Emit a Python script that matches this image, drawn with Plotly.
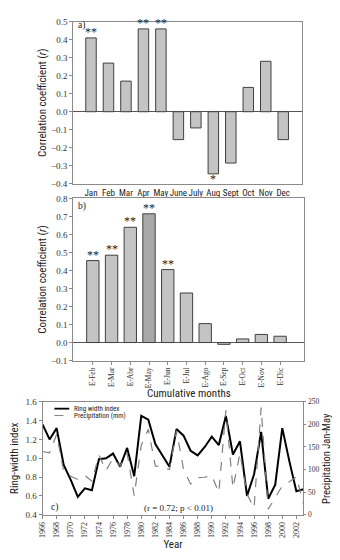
import plotly.graph_objects as go

# Panel a
months = ["Jan", "Feb", "Mar", "Apr", "May", "June", "July", "Aug", "Sept", "Oct", "Nov", "Dec"]
r_month = [0.41, 0.27, 0.17, 0.46, 0.46, -0.155, -0.09, -0.345, -0.285, 0.135, 0.28, -0.155]
sig_month = ["**", "", "", "**", "**", "", "", "*", "", "", "", ""]

# Panel b
cum_months = ["E-Feb", "E-Mar", "E-Abr", "E-May", "E-Jun", "E-Jul", "E-Ago", "E-Sep", "E-Oct", "E-Nov", "E-Dic"]
r_cum = [0.455, 0.485, 0.64, 0.715, 0.405, 0.275, 0.105, -0.01, 0.02, 0.045, 0.035]
sig_cum = ["**", "**", "**", "**", "**", "", "", "", "", "", ""]

# Panel c
years = list(range(1966, 2004))
ring_width = [1.36, 1.20, 1.32, 0.93, 0.77, 0.59, 0.68, 0.66, 0.99, 1.00, 1.05, 0.91,
              1.11, 0.81, 1.45, 1.41, 1.15, 1.03, 0.91, 1.31, 1.24, 1.08, 1.03, 1.12,
              1.23, 1.14, 1.45, 1.04, 1.18, 0.60, 0.83, 1.28, 0.57, 0.72, 1.32, 0.97,
              0.65, 0.67]
precip = [140, 137, 178, 96, 85, 78, 87, 74, 132, 98, 125, 108,
          136, 42, 154, 189, 108, 105, 100, 186, 100, 68, 82, 83,
          87, 49, 231, 59, 136, 46, 15, 237, 12, 38, 64, 73,
          84, 24]
year_ticks = list(range(1966, 2004, 2))
series_names = ["Ring width index", "Precipitation (mm)"]

SERIF = "Liberation Serif, Times New Roman, serif"
NARROW = "Roboto Condensed, Liberation Sans, sans-serif"
FRAME = "#8a8a8a"
W, H = 340, 560

def px_x(p):
    return p / W

def px_y(p):
    return (H - p) / H

fig = go.Figure()

fig.add_trace(go.Bar(
    x=list(range(len(months))), y=r_month, width=0.6,
    marker=dict(color="#c4c4c4", line=dict(color="#404040", width=1)),
    xaxis="x", yaxis="y", showlegend=False))

bar_b_colors = ["#c4c4c4"] * len(cum_months)
bar_b_colors[3] = "#a8a8a8"
fig.add_trace(go.Bar(
    x=list(range(len(cum_months))), y=r_cum, width=0.66,
    marker=dict(color=bar_b_colors, line=dict(color="#404040", width=1)),
    xaxis="x2", yaxis="y2", showlegend=False))

fig.add_trace(go.Scatter(
    x=years, y=ring_width, mode="lines", name=series_names[0],
    line=dict(color="black", width=2), showlegend=False,
    xaxis="x3", yaxis="y3"))
fig.add_trace(go.Scatter(
    x=years, y=precip, mode="lines", name=series_names[1],
    line=dict(color="#808080", width=1.2, dash="dash"), showlegend=False,
    xaxis="x3", yaxis="y4"))

def frame_axis(**kw):
    d = dict(showline=True, linecolor=FRAME, linewidth=1, mirror=True,
             ticks="outside", ticklen=3, tickcolor=FRAME, showgrid=False,
             zeroline=False, tickfont=dict(family=SERIF, size=9, color="#333"))
    d.update(kw)
    return d

title_font = dict(family=NARROW, size=11, color="#222")
star_font = dict(family=SERIF, size=12, color="#222")

annotations = []
# significance stars
for xref, yref, vals, sig in (("x", "y", r_month, sig_month), ("x2", "y2", r_cum, sig_cum)):
    for i, (v, s) in enumerate(zip(vals, sig)):
        if not s:
            continue
        annotations.append(dict(
            text=s, x=i, y=v, xref=xref, yref=yref, showarrow=False,
            yanchor="bottom" if v >= 0 else "top", yshift=-3 if v >= 0 else 4,
            font=star_font))

annotations += [
    dict(text="a)", x=px_x(73), y=px_y(21), xref="paper", yref="paper",
         xanchor="left", yanchor="middle", showarrow=False,
         font=dict(family=SERIF, size=9.5, color="#222")),
    dict(text="b)", x=px_x(73), y=px_y(205), xref="paper", yref="paper",
         xanchor="left", yanchor="middle", showarrow=False,
         font=dict(family=SERIF, size=9.5, color="#222")),
    dict(text="c)", x=px_x(46), y=px_y(512), xref="paper", yref="paper",
         xanchor="left", yanchor="middle", showarrow=False,
         font=dict(family=SERIF, size=9.5, color="#222")),
    dict(text="(r = 0.72; p < 0.01)", x=px_x(177), y=px_y(512), xref="paper", yref="paper",
         xanchor="center", yanchor="middle", showarrow=False,
         font=dict(family=SERIF, size=9, color="#222")),
    dict(text="Cumulative months", x=px_x(187), y=px_y(396), xref="paper", yref="paper",
         xanchor="center", yanchor="middle", showarrow=False, font=title_font),
    dict(text="Precipitation Jan-May", x=px_x(327), y=px_y(462), xref="paper", yref="paper",
         xanchor="center", yanchor="middle", showarrow=False, textangle=-90,
         font=dict(family=NARROW, size=10.5, color="#222")),
]

# manual legend
legend_rows = [(411, "black", 1.8, "solid"), (418, "#808080", 1.0, "dash")]
shapes = []
for (yy, col, lw, dash), name in zip(legend_rows, series_names):
    shapes.append(dict(type="line", xref="paper", yref="paper",
                       x0=px_x(51), x1=px_x(66), y0=px_y(yy), y1=px_y(yy),
                       line=dict(color=col, width=lw, dash=dash)))
    annotations.append(dict(text=name, x=px_x(69), y=px_y(yy), xref="paper", yref="paper",
                            xanchor="left", yanchor="middle", showarrow=False,
                            font=dict(family=NARROW, size=7, color="#222")))

fig.update_layout(
    width=W, height=H,
    margin=dict(l=0, r=0, t=0, b=0),
    paper_bgcolor="white", plot_bgcolor="white",
    xaxis=frame_axis(domain=[px_x(70), px_x(302)], anchor="y", range=[-1.02, 12.1],
                     tickmode="array", tickvals=list(range(len(months))), ticktext=months,
                     tickangle=0, ticklen=0,
                     tickfont=dict(family=NARROW, size=9, color="#222")),
    yaxis=frame_axis(domain=[px_y(182), px_y(17)], anchor="x", range=[-0.4, 0.5],
                     dtick=0.1, tickformat=".1f",
                     zeroline=True, zerolinecolor="#555", zerolinewidth=1,
                     title=dict(text="Correlation coefficient (<i>r</i>)", standoff=2, font=title_font)),
    xaxis2=frame_axis(domain=[px_x(70), px_x(304)], anchor="y2", range=[-1.05, 11.3],
                      tickmode="array", tickvals=list(range(len(cum_months))), ticktext=cum_months,
                      tickangle=-90, tickfont=dict(family=SERIF, size=7.5, color="#333")),
    yaxis2=frame_axis(domain=[px_y(362), px_y(197)], anchor="x2", range=[-0.1, 0.8],
                      dtick=0.1, tickformat=".1f",
                      zeroline=True, zerolinecolor="#555", zerolinewidth=1,
                      title=dict(text="Correlation coefficient (<i>r</i>)", standoff=2, font=title_font)),
    xaxis3=frame_axis(domain=[px_x(39), px_x(303)], anchor="y3", range=[1966, 2003],
                      tickmode="array", tickvals=year_ticks, ticktext=[str(y) for y in year_ticks],
                      tickangle=-90, tickfont=dict(family=SERIF, size=8, color="#333"),
                      title=dict(text="Year", standoff=2, font=title_font)),
    yaxis3=frame_axis(domain=[px_y(519), px_y(404)], anchor="x3", range=[0.4, 1.6],
                      dtick=0.2, tickformat=".1f", mirror=False,
                      title=dict(text="Ring-width index", standoff=4, font=title_font)),
    yaxis4=frame_axis(overlaying="y3", side="right", anchor="x3", range=[0, 250],
                      dtick=50, mirror=False, ticklen=2,
                      tickfont=dict(family=SERIF, size=7.5, color="#333")),
    showlegend=False,
    annotations=annotations,
    shapes=shapes,
)

fig.write_html("out.html", config={"displayModeBar": False},
               post_script="document.body.style.margin='0px';document.body.style.overflow='hidden';")
